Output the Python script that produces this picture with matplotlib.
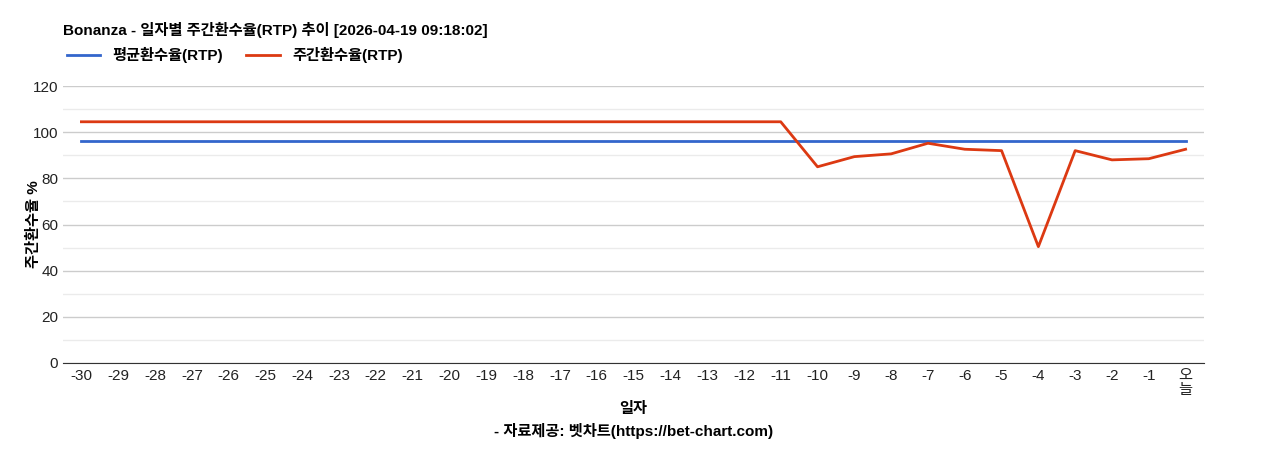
import matplotlib
matplotlib.use("Agg")
import matplotlib.pyplot as plt

plt.rcParams['font.family'] = ['Liberation Sans', 'Noto Sans CJK KR', 'DejaVu Sans']

days = [str(i) for i in range(-30, 0)] + ["오\n늘"]
avg_rtp = [96.0] * 31
week_rtp = [104.5] * 20 + [85.0, 89.4, 90.6, 95.2, 92.6, 92.0, 50.4, 92.0, 88.0, 88.5, 92.6]

fig = plt.figure(figsize=(12.68, 4.5), dpi=100)
ax = fig.add_axes([63/1268, 1-363/450, (1204-63)/1268, (363-86)/450])

x = list(range(len(days)))
ax.plot(x, avg_rtp, color='#3366cc', lw=2, label='평균환수율(RTP)')
ax.plot(x, week_rtp, color='#dc3912', lw=2, label='주간환수율(RTP)')

ax.set_xlim(-0.5, len(days) - 0.5)
ax.set_ylim(0, 120)
ax.set_yticks(range(0, 121, 20))
ax.set_yticks(range(10, 120, 20), minor=True)
ax.grid(axis='y', which='major', color='#cccccc', lw=1)
ax.grid(axis='y', which='minor', color='#ebebeb', lw=1)
ax.tick_params(axis='y', which='both', length=0, labelsize=11, colors='#222222')
ax.set_xticks(x)
ax.set_xticklabels(days, fontsize=11, color='#222222', linespacing=1.0)
ax.tick_params(axis='x', length=0, pad=4)
for s in ['top', 'right', 'left']:
    ax.spines[s].set_visible(False)
ax.spines['bottom'].set_color('#333333')
ax.set_axisbelow(True)

ax.set_ylabel('주간환수율 %', fontsize=11, fontweight='bold')
ax.yaxis.set_label_coords(-22/1141, 0.5)
ax.set_xlabel('일자\n- 자료제공: 벳차트(https://bet-chart.com)', fontsize=11, fontweight='bold', linespacing=1.5)

fig.text(63/1268, 1-30/450, 'Bonanza - 일자별 주간환수율(RTP) 추이 [2026-04-19 09:18:02]',
         fontsize=11, fontweight='bold', va='center')
ax.legend(loc='center left', bbox_to_anchor=(-0.002, 1.112), ncol=2, frameon=False,
          prop={'weight': 'bold', 'size': 11}, handlelength=2.2, columnspacing=1.5,
          borderaxespad=0)

fig.savefig('out.png', dpi=100)
